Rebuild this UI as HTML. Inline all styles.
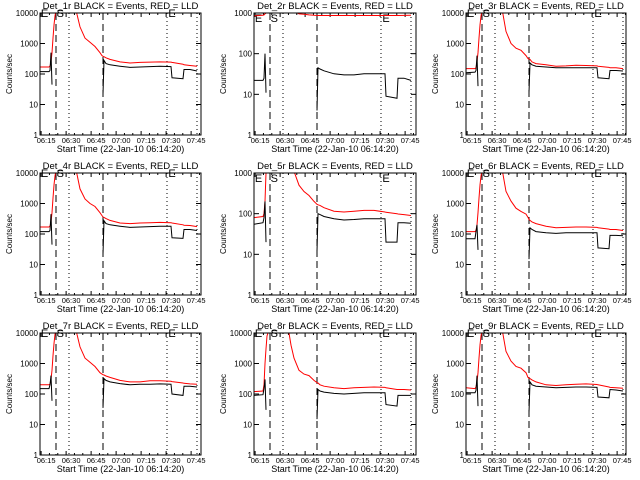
<!DOCTYPE html>
<html><head><meta charset="utf-8">
<style>
body{margin:0;background:#fff;}
svg{display:block;font-family:"Liberation Sans",sans-serif;}
</style></head>
<body>
<svg id="chart" width="640" height="480" viewBox="0 0 640 480" xmlns="http://www.w3.org/2000/svg">
<rect x="0" y="0" width="640" height="480" fill="#fff"/>
</svg>
<script>
// Shared time grid: minutes after 06:14:20
const times = [0,5.4,6,6.6,7.2,7.8,8.4,9,9.6,10.2,21,22.2,24,27,30,33,36,37.2,37.8,38.4,39.6,42,48,54,60,66,72,78.6,79.2,85.8,86.4,90,94.2];
const xTickLabels = ["06:15","06:30","06:45","07:00","07:15","07:30","07:45"];
const xTickMinutes = [0.67,15.67,30.67,45.67,60.67,75.67,90.67];
const dashedMinutes = [9.6,37.8];
const dottedMinutes = [17.4,76.2,94.2];
const detNames = ["Det_1r","Det_2r","Det_3r","Det_4r","Det_5r","Det_6r","Det_7r","Det_8r","Det_9r"];
const yMaxDecades = [4,3,4,4,3,4,4,4,4];
const N = null;
const red1 = [170,170,180,250,500,1500,4000,8000,12000,20000,20000,9000,3500,1500,1100,800,500,400,380,370,340,300,250,230,240,245,250,245,240,210,200,190,180];
const black1 = [120,120,130,500,45,N,N,N,N,N,N,N,N,N,N,N,N,N,22,280,220,200,180,165,170,175,180,175,75,70,140,140,125];
const red2 = [850,880,900,950,1000,1100,1200,1300,1300,1300,1300,1300,1100,950,930,900,880,875,870,870,870,870,870,870,870,870,870,870,870,870,870,875,880];
const black2 = [22,22,25,100,11,N,N,N,N,N,N,N,N,N,N,N,N,N,4,45,42,38,32,30,30,32,32,32,9,8,25,25,22];
const red3 = [150,150,160,250,500,1500,4000,8000,12000,20000,20000,9000,2500,1000,700,600,400,320,310,300,250,220,200,180,185,195,190,185,180,165,160,160,150];
const black3 = [110,115,130,400,40,N,N,N,N,N,N,N,N,N,N,N,N,N,25,230,200,180,170,160,160,160,160,160,75,70,130,130,125];
const red4 = [170,170,180,250,500,1500,4000,8000,12000,20000,20000,9000,3000,1400,1000,800,500,400,360,350,320,280,230,220,230,235,240,235,230,200,195,190,175];
const black4 = [120,120,130,450,45,N,N,N,N,N,N,N,N,N,N,N,N,N,22,270,220,200,180,165,170,175,180,180,75,72,140,140,130];
const red5 = [80,85,100,200,1000,1500,3000,5000,5000,5000,5000,3000,1100,500,350,280,200,180,170,165,160,140,115,110,115,120,120,110,108,100,98,95,90];
const black5 = [55,60,80,200,20,N,N,N,N,N,N,N,N,N,N,N,N,N,12,100,95,85,75,70,72,75,75,75,20,20,60,60,58];
const red6 = [120,120,130,200,500,1500,4000,8000,12000,20000,20000,9000,2500,1200,700,550,450,350,300,280,250,220,180,160,165,170,170,165,160,145,140,140,130];
const black6 = [70,70,120,200,30,N,N,N,N,N,N,N,N,N,N,N,N,N,15,160,140,120,110,105,110,110,110,110,35,33,90,90,88];
const red7 = [200,200,210,300,600,1800,4500,9000,12000,20000,20000,9000,3500,1500,1100,800,500,450,430,420,390,350,280,250,250,270,270,260,255,230,225,215,210];
const black7 = [150,150,200,400,60,N,N,N,N,N,N,N,N,N,N,N,N,N,35,320,280,250,220,200,210,210,215,210,100,90,180,180,170];
const red8 = [120,125,200,1000,3000,8000,10000,20000,20000,20000,10000,4000,1500,600,450,400,280,250,235,230,200,180,160,150,160,165,170,165,160,140,140,140,135];
const black8 = [90,95,150,300,30,N,N,N,N,N,N,N,N,N,N,N,N,N,15,140,125,115,105,100,105,110,110,110,45,40,90,90,90];
const red9 = [160,150,170,250,500,1500,4000,8000,12000,20000,20000,9000,2500,1200,800,700,500,350,330,320,290,250,200,190,200,210,215,205,200,170,165,160,155];
const black9 = [110,110,130,400,40,N,N,N,N,N,N,N,N,N,N,N,N,N,25,250,200,180,170,160,165,170,170,165,80,75,140,135,125];
const redSeries = [red1,red2,red3,red4,red5,red6,red7,red8,red9];
const blackSeries = [black1,black2,black3,black4,black5,black6,black7,black8,black9];

const NS = "http://www.w3.org/2000/svg";
const svg = document.getElementById("chart");
const colL = [40,254,466], colR = [201,416,626];
const pxPerMin = 25/15;
function mk(tag, attrs, parent){
  const e = document.createElementNS(NS, tag);
  for (const k in attrs) e.setAttribute(k, attrs[k]);
  (parent||svg).appendChild(e);
  return e;
}
for (let i=0;i<9;i++){
  const c = i%3, r = Math.floor(i/3);
  const L = colL[c], R = colR[c], T = 13+160*r, B = 135+160*r;
  const dec = yMaxDecades[i];
  const xs = m => L + m*pxPerMin;
  const ys = v => B - (Math.log10(v)/dec)*(B-T);
  const g = mk("g", {});
  
  
  const clipId = "clip"+i;
  const cp = mk("clipPath", {id: clipId}, g);
  mk("rect", {x:L, y:T, width:R-L, height:B-T}, cp);
  const title = mk("text", {x:(L+R)/2, y:T-4, "font-size":"9.5", "text-anchor":"middle"}, g);
  title.textContent = detNames[i] + " BLACK = Events, RED = LLD";
  
  
  const yt = mk("text", {x:0, y:0, "font-size":"8", "text-anchor":"middle", transform:`translate(${L-28},${(T+B)/2}) rotate(-90)`}, g);
  yt.textContent = "Counts/sec";
  
  
  const xt = mk("text", {x:(L+R)/2, y:B+17, "font-size":"9", "text-anchor":"middle"}, g);
  xt.textContent = "Start Time (22-Jan-10 06:14:20)";
  
  
  for (let d=0; d<=dec; d++){
    const v = Math.pow(10,d), y = ys(v);
    const lab = mk("text", {x:L-2, y:y+3, "font-size":"8", "text-anchor":"end"}, g);
    lab.textContent = String(v);
    
    
    mk("line", {x1:L, x2:L+5, y1:y, y2:y, stroke:"#000", "stroke-width":1}, g);
    mk("line", {x1:R-5, x2:R, y1:y, y2:y, stroke:"#000", "stroke-width":1}, g);
  }
  for (let k=0;k<xTickMinutes.length;k++){
    const x = xs(xTickMinutes[k]);
    mk("line", {x1:x, x2:x, y1:B, y2:B-4, stroke:"#000"}, g);
    mk("line", {x1:x, x2:x, y1:T, y2:T+4, stroke:"#000"}, g);
    for (let s=1;s<3;s++){
      const xm = xs(xTickMinutes[k]+5*s);
      if (xm < R){
        mk("line", {x1:xm, x2:xm, y1:B, y2:B-2, stroke:"#000"}, g);
        mk("line", {x1:xm, x2:xm, y1:T, y2:T+2, stroke:"#000"}, g);
      }
    }
    const tl = mk("text", {x:x+5, y:B+8, "font-size":"7.5", "text-anchor":"middle"}, g);
    tl.textContent = xTickLabels[k];
    
    
  }
  dashedMinutes.forEach(m=>{
    const l = mk("line", {x1:xs(m), x2:xs(m), y1:T, y2:B, stroke:"#000", "stroke-dasharray":"7,4"}, g);
    
    
  });
  dottedMinutes.forEach(m=>{
    const l = mk("line", {x1:xs(m), x2:xs(m), y1:T, y2:B, stroke:"#000", "stroke-dasharray":"1,3"}, g);
    
    
  });
  [["E",0.5],["S",10],["E",77]].forEach(p=>{
    const t = mk("text", {x:xs(p[1]), y:T+ (dec===3?9:4), "font-size":"11"}, g);
    t.textContent = p[0];
    
    
  });
  function drawSeries(vals, color, name){
    let d = "", pen = false;
    for (let j=0;j<times.length;j++){
      const v = vals[j];
      if (v === null){ pen = false; continue; }
      d += (pen ? "L" : "M") + xs(times[j]).toFixed(1) + "," + ys(v).toFixed(1);
      pen = true;
    }
    const p = mk("path", {d:d, fill:"none", stroke:color, "stroke-width":1, "clip-path":`url(#${clipId})`}, g);
    
    
  }
  drawSeries(redSeries[i], "#ff0000", "lld-series-red");
  drawSeries(blackSeries[i], "#000000", "events-series-black");
  const fr = mk("rect", {x:L, y:T, width:R-L, height:B-T, fill:"none", stroke:"#000", "stroke-width":1}, g);
  
  
}
</script>
</body></html>
